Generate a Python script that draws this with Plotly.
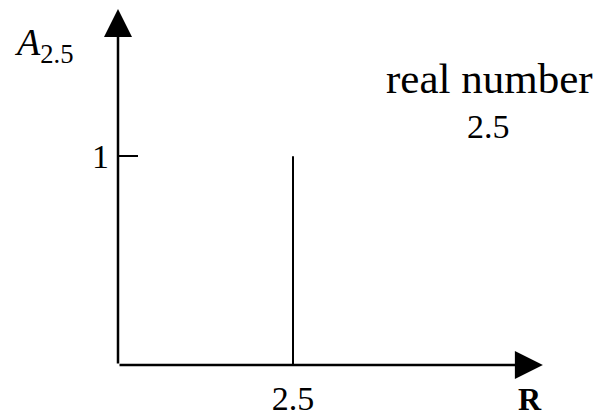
import plotly.graph_objects as go

# ---- data ----
spike_x = [2.5]          # position of the real number on R
spike_y = [1]            # indicator value A_2.5
x_tick_vals = [2.5]
x_tick_text = ["2.5"]
y_tick_vals = [1]
y_tick_text = ["1"]
x_axis_end = 6.07        # extent of the R axis arrow
y_axis_end = 1.705       # extent of the vertical axis arrow

FONT = "Liberation Serif"

W, H = 601, 417
L = 118
PW = W - L
PH = 367
B = H - PH
XS, YS = 70.0, 210.0   # px per data unit

fig = go.Figure()

# vertical spike at 2.5
for xv, yv in zip(spike_x, spike_y):
    fig.add_trace(go.Scatter(
        x=[xv, xv], y=[0, yv], mode="lines",
        line=dict(color="black", width=2),
        hoverinfo="skip", showlegend=False, cliponaxis=False,
    ))

# axis arrows
for hx, hy in [(x_axis_end, 0), (0, y_axis_end)]:
    fig.add_annotation(x=hx, y=hy, ax=0, ay=0, xref="x", yref="y",
                       axref="x", ayref="y", showarrow=True, arrowhead=2,
                       arrowwidth=2.5, arrowsize=2.24, arrowcolor="black",
                       standoff=0, text="")


def px(xp):
    return (xp - L) / PW


def py(yp):
    return (PH - yp) / PH


# texts
fig.add_annotation(x=px(489), y=py(79), xref="paper", yref="paper",
                   text="real number", showarrow=False,
                   xanchor="center", yanchor="middle",
                   font=dict(family=FONT, size=43, color="black"))
fig.add_annotation(x=px(488), y=py(127), xref="paper", yref="paper",
                   text="2.5", showarrow=False,
                   xanchor="center", yanchor="middle",
                   font=dict(family=FONT, size=34, color="black"))
fig.add_annotation(x=px(530), y=py(401.5), xref="paper", yref="paper",
                   text="<b>R</b>", showarrow=False,
                   xanchor="center", yanchor="middle",
                   font=dict(family=FONT, size=32, color="black"))
fig.add_annotation(x=px(12), y=py(45), xref="paper", yref="paper",
                   text="<i>A</i><sub>2.5</sub>", showarrow=False,
                   xanchor="left", yanchor="middle",
                   font=dict(family=FONT, size=38, color="black"))

fig.update_xaxes(range=[0, PW / XS], showgrid=False, zeroline=False,
                 showline=False, tickvals=x_tick_vals, ticktext=x_tick_text,
                 ticks="", ticklabelstandoff=10,
                 tickfont=dict(family=FONT, size=34, color="black"),
                 fixedrange=True)
fig.update_yaxes(range=[0, PH / YS], showgrid=False, zeroline=False,
                 showline=False, tickvals=y_tick_vals, ticktext=y_tick_text,
                 ticks="inside", ticklen=20, tickwidth=1.5, tickcolor="black",
                 ticklabelstandoff=8,
                 tickfont=dict(family=FONT, size=34, color="black"),
                 fixedrange=True)

fig.update_layout(width=W, height=H,
                  margin=dict(l=L, r=0, t=0, b=B, pad=0),
                  paper_bgcolor="white", plot_bgcolor="white",
                  showlegend=False)

fig.write_html("out.html", config={"displayModeBar": False},
               post_script="document.body.style.margin='0';"
                           "document.body.style.overflow='hidden';")
